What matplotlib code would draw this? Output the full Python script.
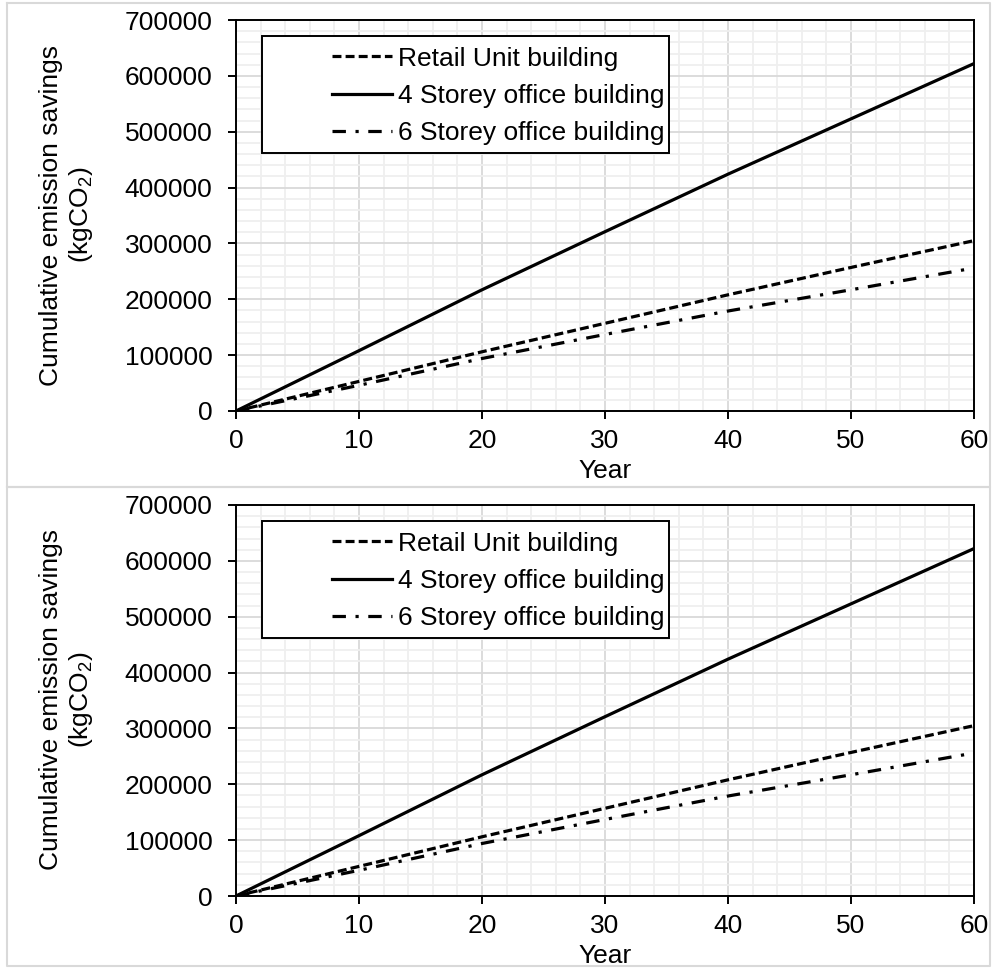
import matplotlib.pyplot as plt
from matplotlib.lines import Line2D
from matplotlib.patches import Rectangle
from matplotlib.ticker import MultipleLocator

plt.rcParams['font.family'] = ['Liberation Sans', 'DejaVu Sans']
plt.rcParams['mathtext.default'] = 'regular'

# data (both panels show the same values)
years = [0, 10, 20, 30, 40, 50, 60]
retail = [0, 53000, 106000, 157000, 208000, 257000, 305000]
storey4 = [0, 108000, 217000, 321000, 424000, 523000, 622000]
storey6 = [0, 46000, 94000, 137000, 179000, 217000, 256000]
labels = ['Retail Unit building', '4 Storey office building', '6 Storey office building']
yticks = [0, 100000, 200000, 300000, 400000, 500000, 600000, 700000]
xticks = [0, 10, 20, 30, 40, 50, 60]

W, H = 992, 968
FS = 19
fig = plt.figure(figsize=(W / 100, H / 100), dpi=100)


def px_box(x0, y0, x1, y1):
    # pixel box (top-left origin) -> figure fraction [l, b, w, h]
    return [x0 / W, 1 - y1 / H, (x1 - x0) / W, (y1 - y0) / H]


def draw_panel(ax):
    ax.plot(years, retail, color='black', lw=2.3, dashes=(2.8, 1.3), label=labels[0])
    ax.plot(years, storey4, color='black', lw=2.3, label=labels[1])
    ax.plot(years, storey6, color='black', lw=2.3, dashes=(4.2, 3.0, 1.0, 3.0), label=labels[2])

    ax.set_xlim(0, 60)
    ax.set_ylim(0, 700000)
    ax.set_xticks(xticks)
    ax.set_yticks(yticks)
    ax.xaxis.set_minor_locator(MultipleLocator(2))
    ax.yaxis.set_minor_locator(MultipleLocator(20000))
    ax.grid(which='major', color='#d9d9d9', lw=1.3)
    ax.grid(which='minor', color='#efefef', lw=1.3)
    ax.set_axisbelow(True)
    ax.tick_params(which='major', direction='out', length=6, width=1.4,
                   labelsize=FS, colors='black')
    ax.tick_params(axis='x', pad=7)
    ax.tick_params(axis='y', pad=11)
    ax.tick_params(which='minor', length=0)
    for s in ax.spines.values():
        s.set_linewidth(1.4)
        s.set_color('black')

    # legend box drawn separately, Excel-style with wide left margin
    ax.add_patch(Rectangle((0.0352, 0.660), 0.5515, 0.299, transform=ax.transAxes,
                           facecolor='white', edgecolor='black', lw=1.4, zorder=3))
    leg = ax.legend(loc='upper left', bbox_to_anchor=(0.130, 0.932), frameon=False,
                    fontsize=FS, handlelength=2.27, handletextpad=0.23,
                    labelspacing=0.5, borderpad=0, borderaxespad=0)
    leg.set_zorder(4)

    ax.text(0.5, -0.153, 'Year', transform=ax.transAxes, ha='center', va='center',
            fontsize=FS)


ax1 = fig.add_axes(px_box(236, 20, 974, 411))
ax2 = fig.add_axes(px_box(236, 505, 974, 896))
for ax in (ax1, ax2):
    draw_panel(ax)

ylab = 'Cumulative emission savings\n(kgCO$_2$)'
for yc in (215, 700):
    fig.text(67 / W, 1 - yc / H, ylab, rotation=90, ha='center', va='center',
             fontsize=FS, linespacing=1.15, multialignment='center')

# light grey frames around each panel
for y0, y1 in ((3, 487), (487, 966)):
    x0, x1 = 7, 990
    pts = [(x0, y0), (x1, y0), (x1, y1), (x0, y1), (x0, y0)]
    fig.add_artist(Line2D([p[0] / W for p in pts], [1 - p[1] / H for p in pts],
                          color='#d9d9d9', lw=1.5, transform=fig.transFigure))

fig.savefig('out.png', dpi=100)
